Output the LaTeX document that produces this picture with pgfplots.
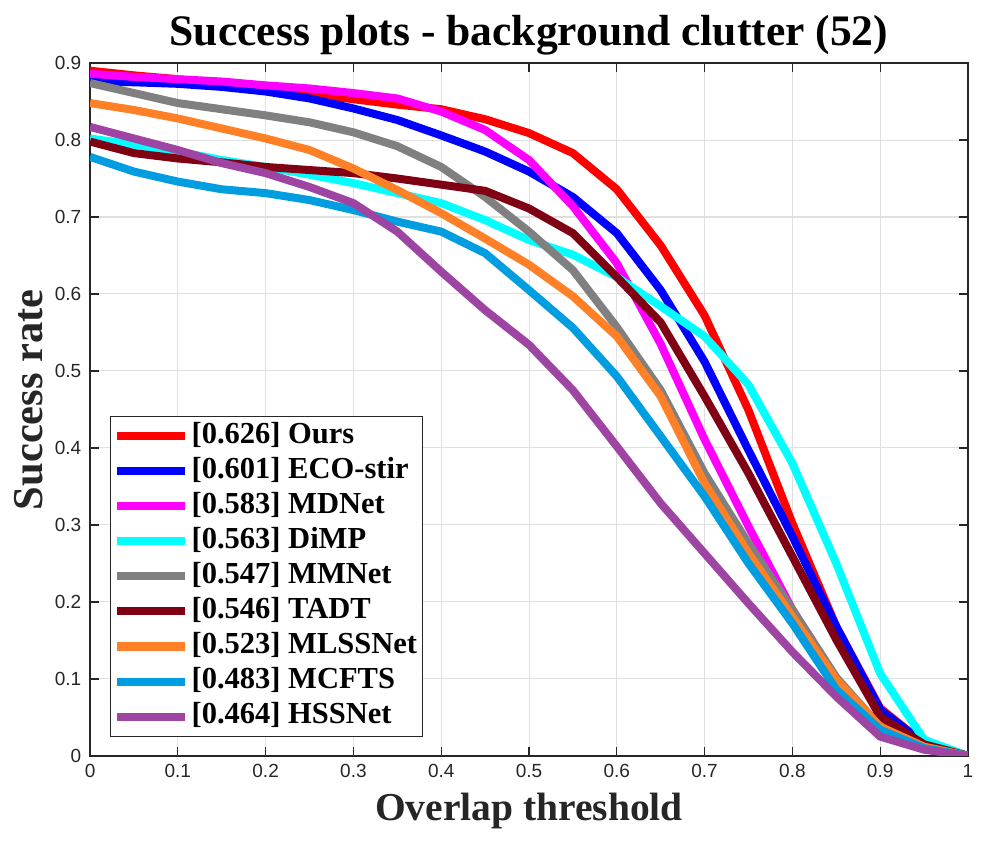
\documentclass[border=0pt]{standalone}
\usepackage{fontspec}
\setmainfont{Liberation Serif}
\newfontfamily\tickfont{Liberation Sans}
\usepackage{pgfplots}
\pgfplotsset{compat=1.18}

\definecolor{axgray}{rgb}{0.15,0.15,0.15}
\definecolor{gridgray}{rgb}{0.88,0.88,0.88}
\definecolor{cOurs}{rgb}{1,0,0}
\definecolor{cECO}{rgb}{0,0,1}
\definecolor{cMDNet}{rgb}{1,0,1}
\definecolor{cDiMP}{rgb}{0,1,1}
\definecolor{cMMNet}{rgb}{0.5,0.5,0.5}
\definecolor{cTADT}{rgb}{0.5,0,0.08}
\definecolor{cMLSS}{rgb}{1,0.5,0.15}
\definecolor{cMCFTS}{rgb}{0,0.62,0.88}
\definecolor{cHSS}{rgb}{0.62,0.27,0.64}

\begin{document}
\begin{tikzpicture}
\path[use as bounding box] (-36pt,-37.6pt) rectangle (363.8pt,302.2pt);
\begin{axis}[
    scale only axis,
    width=351pt, height=277pt,
    xmin=0, xmax=1, ymin=0, ymax=0.9,
    xtick={0,0.1,...,1}, ytick={0,0.1,...,0.9},
    xticklabels={0,0.1,0.2,0.3,0.4,0.5,0.6,0.7,0.8,0.9,1},
    yticklabels={0,0.1,0.2,0.3,0.4,0.5,0.6,0.7,0.8,0.9},
    /pgf/number format/assume math mode=true,
    tick label style={font=\tickfont\fontsize{7.6}{9}\selectfont, text=axgray},
    tick align=inside,
    major tick length=3.6pt,
    tick style={axgray, line width=0.5pt},
    axis line style={axgray, line width=0.6pt},
    grid=major,
    grid style={gridgray, line width=0.4pt},
    title={Success plots - background clutter (52)},
    title style={font=\bfseries\fontsize{17.4}{20}\selectfont, yshift=-6.5pt},
    xlabel={Overlap threshold},
    ylabel={Success rate},
    xlabel style={font=\bfseries\fontsize{15.8}{18}\selectfont, text=axgray, yshift=1pt},
    ylabel style={font=\bfseries\fontsize{17}{19}\selectfont, text=axgray,
        at={(ticklabel cs:0.514)}, yshift=-2pt},
    legend cell align=left,
    legend style={at={(0.023,0.027)}, anchor=south west,
        font=\bfseries\fontsize{12.2}{14}\selectfont,
        draw=axgray, line width=0.5pt, fill=white,
        inner sep=1pt, row sep=0pt,
        nodes={text height=8.8pt, text depth=3pt, inner sep=1.1pt}},
    legend image code/.code={\draw[#1] (0pt,0pt) -- (27pt,0pt);},
    every axis plot/.append style={line width=3.2pt},
]
\addplot[cOurs] coordinates {
(0,0.890) (0.05,0.884) (0.1,0.879) (0.15,0.873) (0.2,0.867) (0.25,0.860) (0.3,0.853)
(0.35,0.846) (0.4,0.840) (0.45,0.827) (0.5,0.809) (0.55,0.783) (0.6,0.736) (0.65,0.663)
(0.7,0.572) (0.75,0.449) (0.8,0.302) (0.85,0.168) (0.9,0.062) (0.95,0.016) (1,0)};
\addlegendentry{[0.626] Ours}
\addplot[cECO] coordinates {
(0,0.876) (0.05,0.875) (0.1,0.873) (0.15,0.869) (0.2,0.863) (0.25,0.854) (0.3,0.841)
(0.35,0.826) (0.4,0.806) (0.45,0.785) (0.5,0.759) (0.55,0.726) (0.6,0.679) (0.65,0.605)
(0.7,0.512) (0.75,0.397) (0.8,0.285) (0.85,0.168) (0.9,0.060) (0.95,0.016) (1,0)};
\addlegendentry{[0.601] ECO-stir}
\addplot[cMDNet] coordinates {
(0,0.886) (0.05,0.882) (0.1,0.879) (0.15,0.876) (0.2,0.871) (0.25,0.867) (0.3,0.861)
(0.35,0.854) (0.4,0.837) (0.45,0.813) (0.5,0.774) (0.55,0.714) (0.6,0.640) (0.65,0.535)
(0.7,0.411) (0.75,0.298) (0.8,0.190) (0.85,0.100) (0.9,0.038) (0.95,0.010) (1,0)};
\addlegendentry{[0.583] MDNet}
\addplot[cDiMP] coordinates {
(0,0.802) (0.05,0.794) (0.1,0.785) (0.15,0.774) (0.2,0.765) (0.25,0.755) (0.3,0.744)
(0.35,0.731) (0.4,0.718) (0.45,0.696) (0.5,0.670) (0.55,0.651) (0.6,0.622) (0.65,0.584)
(0.7,0.545) (0.75,0.482) (0.8,0.380) (0.85,0.250) (0.9,0.107) (0.95,0.021) (1,0)};
\addlegendentry{[0.563] DiMP}
\addplot[cMMNet] coordinates {
(0,0.874) (0.05,0.861) (0.1,0.848) (0.15,0.840) (0.2,0.832) (0.25,0.823) (0.3,0.810)
(0.35,0.792) (0.4,0.765) (0.45,0.726) (0.5,0.681) (0.55,0.631) (0.6,0.557) (0.65,0.475)
(0.7,0.367) (0.75,0.276) (0.8,0.190) (0.85,0.102) (0.9,0.038) (0.95,0.011) (1,0)};
\addlegendentry{[0.547] MMNet}
\addplot[cTADT] coordinates {
(0,0.798) (0.05,0.783) (0.1,0.776) (0.15,0.771) (0.2,0.765) (0.25,0.761) (0.3,0.757)
(0.35,0.750) (0.4,0.742) (0.45,0.734) (0.5,0.711) (0.55,0.679) (0.6,0.622) (0.65,0.563)
(0.7,0.467) (0.75,0.367) (0.8,0.259) (0.85,0.151) (0.9,0.051) (0.95,0.015) (1,0)};
\addlegendentry{[0.546] TADT}
\addplot[cMLSS] coordinates {
(0,0.848) (0.05,0.839) (0.1,0.828) (0.15,0.815) (0.2,0.802) (0.25,0.787) (0.3,0.763)
(0.35,0.735) (0.4,0.705) (0.45,0.672) (0.5,0.638) (0.55,0.597) (0.6,0.545) (0.65,0.467)
(0.7,0.354) (0.75,0.263) (0.8,0.181) (0.85,0.099) (0.9,0.038) (0.95,0.012) (1,0)};
\addlegendentry{[0.523] MLSSNet}
\addplot[cMCFTS] coordinates {
(0,0.778) (0.05,0.759) (0.1,0.746) (0.15,0.736) (0.2,0.731) (0.25,0.722) (0.3,0.709)
(0.35,0.694) (0.4,0.681) (0.45,0.653) (0.5,0.605) (0.55,0.556) (0.6,0.493) (0.65,0.415)
(0.7,0.337) (0.75,0.250) (0.8,0.172) (0.85,0.086) (0.9,0.034) (0.95,0.010) (1,0)};
\addlegendentry{[0.483] MCFTS}
\addplot[cHSS] coordinates {
(0,0.817) (0.05,0.802) (0.1,0.787) (0.15,0.770) (0.2,0.757) (0.25,0.739) (0.3,0.718)
(0.35,0.681) (0.4,0.629) (0.45,0.579) (0.5,0.534) (0.55,0.475) (0.6,0.402) (0.65,0.328)
(0.7,0.263) (0.75,0.198) (0.8,0.135) (0.85,0.077) (0.9,0.025) (0.95,0.008) (1,0)};
\addlegendentry{[0.464] HSSNet}
\end{axis}
\end{tikzpicture}
\end{document}
